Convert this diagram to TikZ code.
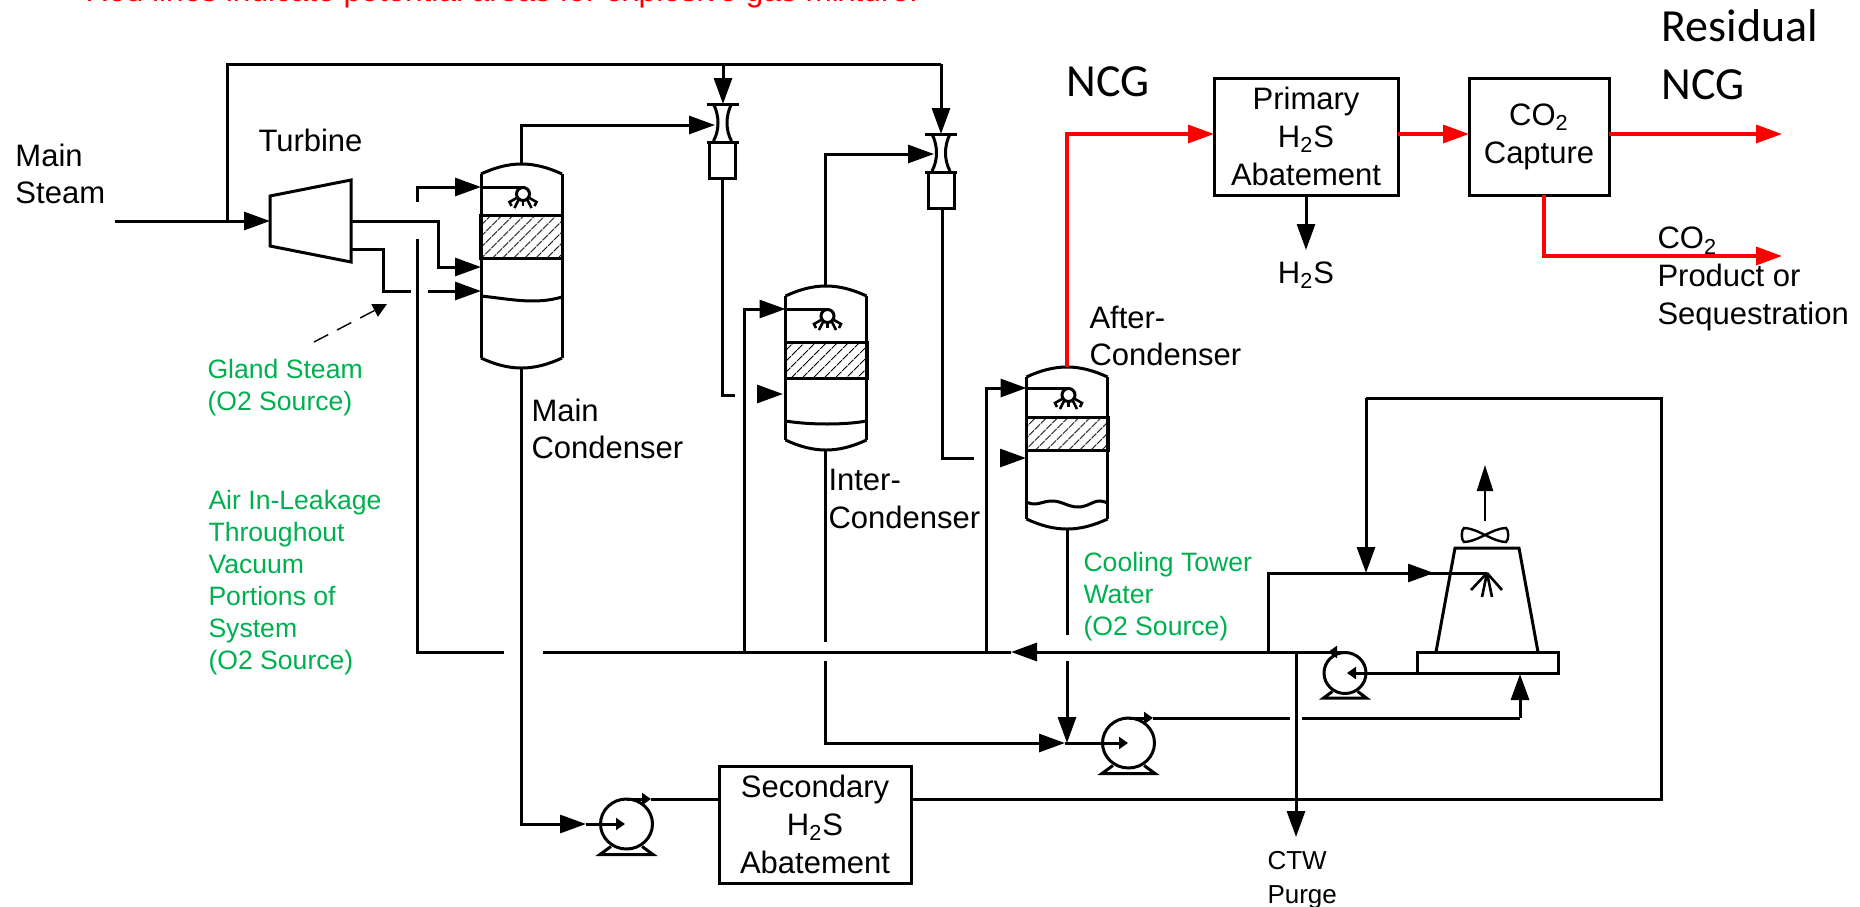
\documentclass[tikz,border=0pt]{standalone}
\usepackage{fontspec}
\setmainfont{Liberation Sans}
\newfontfamily\carlitofont{Carlito}
\usetikzlibrary{arrows.meta,shapes.geometric,patterns.meta}
\definecolor{leakgreen}{HTML}{00B050}
\begin{document}
\begin{tikzpicture}[x=0.5pt,y=-0.5pt,>={Triangle[length=13pt,width=9pt]},line width=1.5pt,
    small head/.style={>={Triangle[length=4.5pt,width=6pt]}},
    red line/.style={red,line width=1.7pt},
    main label/.style={anchor=west,align=left,inner sep=0pt,font=\fontsize{15.5}{18.9}\selectfont},
    big label/.style={anchor=west,align=left,inner sep=0pt,font=\carlitofont\fontsize{23}{29}\selectfont},
    leak label/.style={anchor=west,align=left,inner sep=0pt,text=leakgreen,font=\fontsize{13.3}{16}\selectfont},
    unit box/.style={draw,rectangle,align=center,inner sep=0pt,outer sep=0pt,font=\fontsize{15.5}{18.9}\selectfont},
    vessel node/.style={rectangle,inner sep=0pt,outer sep=0pt,minimum width=40.5pt},
    packing node/.style={draw,rectangle,inner sep=0pt,outer sep=0pt,minimum width=41pt,
      pattern={Lines[angle=45,distance=4pt,line width=.6pt]}},
    head node/.style={draw,circle,inner sep=0pt,outer sep=0pt,minimum size=6.5pt},
    pump node/.style={draw,ellipse,inner sep=0pt,outer sep=0pt},
    ejector node/.style={draw,rectangle,inner sep=0pt,outer sep=0pt,minimum width=13pt,minimum height=18pt}]
    \useasboundingbox (0,0) rectangle (1860,906);

    \foreach \vname/\vx/\vtop/\vbot/\ptop/\pbot/\sy in {maincond/521.5/174/358/215/258/187,
        intercond/826/296/440/342/378/309,aftercond/1067/377/519/417/450/388} {
      \node[vessel node,minimum height={(\vbot-\vtop)*0.5}] (\vname) at (\vx,{(\vtop+\vbot)/2}) {};
      \draw (\vname.north west) -- (\vname.south west);
      \draw (\vname.north east) -- (\vname.south east);
      \draw (\vname.north west) to[bend left=25] (\vname.north east);
      \draw (\vname.south west) to[bend right=25] (\vname.south east);
      \node[packing node,minimum height={(\pbot-\ptop)*0.5}] (\vname pack) at (\vx,{(\ptop+\pbot)/2}) {};
      \node[head node] (\vname head) at (\vx+1.5,\sy+7) {};
      \draw (\vx-40.5,\sy) -- (\vx+1.5,\sy) -- (\vname head.north);
      \draw[line width=1.3pt] (\vname head.south) -- (\vx+1.5,\sy+19);
      \draw[line width=1.3pt] (\vx-5,\sy+11) -- (\vx-12,\sy+15) -- (\vx-10,\sy+19);
      \draw[line width=1.3pt] (\vx+8,\sy+11) -- (\vx+15,\sy+15) -- (\vx+13,\sy+19);
      \draw[line width=1.3pt] (\vx-3,\sy+13) -- (\vx-7,\sy+21);
      \draw[line width=1.3pt] (\vx+6,\sy+13) -- (\vx+10,\sy+21);
    }
    \draw (481,296) .. controls (510,299) and (535,305) .. (562,297);
    \draw (785.5,421) .. controls (810,425) and (845,425) .. (866.5,421);
    \draw (1026.5,502) .. controls (1036,507) and (1042,501) .. (1052,501)
      .. controls (1062,501) and (1068,507) .. (1078,507)
      .. controls (1088,507) and (1092,501) .. (1100,501)
      .. controls (1103,501) and (1105,502) .. (1107.5,503);

    \foreach \ejname/\ex/\ey in {ejone/722.5/104,ejtwo/941/134} {
      \node[ejector node] (\ejname) at (\ex,\ey+56) {};
      \draw (\ex-16,\ey) -- (\ex+16,\ey);
      \draw (\ex-16,\ey+38) -- (\ex+16,\ey+38);
      \draw (\ex-9,\ey) .. controls (\ex-3,\ey+12) and (\ex-3,\ey+26) .. (\ex-9,\ey+37);
      \draw (\ex+9,\ey) .. controls (\ex+3,\ey+12) and (\ex+3,\ey+26) .. (\ex+9,\ey+37);
    }

    \foreach \pname/\px/\py/\prw/\prh in {pumpone/1345/673/42/41,pumptwo/1128.5/743/52/50,pumpthree/626.5/824/52/50} {
      \node[pump node,minimum width={\prw*0.5},minimum height={\prh*0.5}] (\pname) at (\px,\py) {};
      \draw (\px-\prw*0.3,\py+\prh*0.45) -- (\px-\prw*0.51,\py+\prh*0.61) -- (\px+\prw*0.51,\py+\prh*0.61)
        -- (\px+\prw*0.3,\py+\prh*0.45);
    }

    \node[unit box,minimum width=92pt,minimum height=58.5pt] (primary) at (1306,136.5) {Primary\\H\textsubscript{2}S\\Abatement};
    \node[unit box,minimum width=70pt,minimum height=58.5pt] (capture) at (1539,136.5) {CO\textsubscript{2}\\Capture};
    \node[unit box,minimum width=96pt,minimum height=58.5pt] (secondary) at (815,824.5) {Secondary\\H\textsubscript{2}S\\Abatement};
    \node[draw,rectangle,inner sep=0pt,outer sep=0pt,minimum width=70.5pt,minimum height=10.5pt] (basin) at (1487.5,662.5) {};

    \foreach \cname/\cx/\cy in {steamin/115/221,turbinein/270/221,steamtap/227/221,steamtop/227/64,
        turba/270/196,turbb/351/180,turbc/351/262,turbd/270/246,turbineout/351/221,glandout/351/249,
        ejoneabove/723/64,ejoneflange/723/104,ejtwoabove/941/64,ejtwoflange/941/134,
        maintop/521/165,ejonein/715/125,maininb/481/267,mainbend/438/221,glandbend/383/249,
        glandend/411/291,glandrestart/428/291,maininc/481/291,
        airtop/417/202,airmid/417/239,airlow/417/652,airend/504/652,maina/481/187,
        cwend/543/652,cwtip/1011/652,pumponetop/1345/652,pumponetip/1328/652,
        ejoneout/722/178,ejonelow/722/395,ejoneend/735/395,interb/783/394,interbbase/758/394,
        ejtwoout/942/208,ejtwolow/942/458,ejtwoend/974/458,afterb/1026/458,afterbbase/1000/458,
        intertop/825.5/287,ejtwoin/934/154,interbot/825.5/450,intergap/825.5/642,interrestart/825.5/661,
        interlow/825.5/743,pumptwoin/1065/743,pumptwotip/1128/743,
        aftertop/1067/367,ncgcorner/1067/134,primaryin/1214/134,primaryout/1398/134,captureout/1609/134,
        capturein/1469/134,residualend/1782/134,capturedown/1544/195,capturelow/1544/256,co2end/1782/256,
        hsdown/1306/195,hsend/1306/250,
        afterbot/1067/529,aftergap/1067/635,afterrestart/1067/661,
        interfeed/744.5/652,intera/785.5/309,afterfeed/986/652,aftera/1026.5/388,
        mainbot/521/368,mainlow/521/824,pumpthreein/586/824,pumpthreetip/625/824,
        pumpthreetop/626.5/799,pumpthreeflow/651/799,secin/719/799,secout/911/799,
        returnright/1661/799,returnup/1661/398,returnleft/1366/398,towerjoin/1366/573,
        towerbend/1268/573,towerfeed/1268/652,towerin/1434/573,towerspray/1487/573,
        purgetop/1296/652,purgeend/1296/837,
        pumptwotop/1128.5/718,pumptwoflow/1153/718,coolend/1290/718,coolrestart/1302/718,coolright/1520/718,
        basinin/1520/674,basinout/1417/673,pumponein/1347/673,
        towera/1436/652,towerb/1455/548,towerc/1519/548,towerd/1538/652,
        fanup/1485/521,fantip/1485/465,dashfrom/314/342,dashto/387/304} {
      \coordinate (\cname) at (\cx,\cy);
    }

    \draw[->] (steamin) -- (turbinein);
    \draw (steamtap) -- (steamtop) -- (ejtwoabove);
    \draw[->] (ejoneabove) -- (ejoneflange);
    \draw[->] (ejtwoabove) -- (ejtwoflange);
    \draw (turba) -- (turbb) -- (turbc) -- (turbd) -- cycle;
    \draw[->] (maintop) |- (ejonein);
    \draw[->] (turbineout) -- (mainbend) |- (maininb);
    \draw (glandout) -- (glandbend) |- (glandend);
    \draw[->] (glandrestart) -- (maininc);
    \draw[->] (airtop) |- (maina);
    \draw (airmid) |- (airend);
    \draw[->] (pumponetop) -- (cwtip);
    \draw (cwtip) -- (cwend);
    \draw[small head,->] (pumponetop) -- (pumponetip);
    \draw (ejoneout) -- (ejonelow) -- (ejoneend);
    \draw[->] (interbbase) -- (interb);
    \draw (ejtwoout) -- (ejtwolow) -- (ejtwoend);
    \draw[->] (afterbbase) -- (afterb);
    \draw[->] (intertop) |- (ejtwoin);
    \draw (interbot) -- (intergap);
    \draw[->] (interrestart) |- (pumptwoin);
    \draw[small head,->] (pumptwoin) -- (pumptwotip);
    \draw (afterbot) -- (aftergap);
    \draw[->] (afterrestart) -- (pumptwoin -| afterrestart);
    \draw[->] (interfeed) |- (intera);
    \draw[->] (afterfeed) |- (aftera);
    \draw[->] (mainbot) |- (pumpthreein);
    \draw[small head,->] (pumpthreein) -- (pumpthreetip);
    \draw[small head,->] (pumpthreetop) -- (pumpthreeflow);
    \draw (pumpthreeflow) -- (secin);
    \draw (secout) -- (returnright) -- (returnup) -- (returnleft);
    \draw[->] (returnleft) -- (towerjoin);
    \draw (towerfeed) |- (towerin);
    \draw[->] (towerbend) -- (towerin);
    \draw (towerin) -- (towerspray);
    \draw[->] (purgetop) -- (purgeend);
    \draw[small head,->] (pumptwotop) -- (pumptwoflow);
    \draw (pumptwoflow) -- (coolend);
    \draw (coolrestart) -- (coolright);
    \draw[->] (coolright) -- (basinin);
    \draw[small head,->] (basinout) -- (pumponein);
    \draw (towera) -- (towerb) -- (towerc) -- (towerd);
    \draw[line width=1.3pt] (towerspray) -- (1471,590);
    \draw[line width=1.3pt] (towerspray) -- (1482,597);
    \draw[line width=1.3pt] (towerspray) -- (1492,597);
    \draw[line width=1.3pt] (towerspray) -- (1502,590);
    \draw[line width=1.2pt] (1485,535) .. controls (1477,531) and (1470,528) .. (1464,528)
      .. controls (1461,530) and (1461,540) .. (1464,542)
      .. controls (1470,542) and (1477,539) .. (1485,535)
      .. controls (1493,531) and (1500,528) .. (1506,528)
      .. controls (1509,530) and (1509,540) .. (1506,542)
      .. controls (1500,542) and (1493,539) .. (1485,535);
    \draw[->,line width=1.3pt,>={Triangle[length=13pt,width=8pt]}] (fanup) -- (fantip);
    \draw[->,line width=.7pt,dash pattern=on 8pt off 5pt,>={Triangle[length=7pt,width=7pt]}] (dashfrom) -- (dashto);

    \draw[red line,->] (aftertop) -- (ncgcorner) -- (primaryin);
    \draw[red line,->] (primaryout) -- (capturein);
    \draw[red line,->] (captureout) -- (residualend);
    \draw[red line,->] (capturedown) |- (co2end);
    \draw[->] (hsdown) -- (hsend);

    \node[main label] (mainsteamlabel) at (14,174) {Main\\Steam};
    \node[main label] (turbinelabel) at (257,140) {Turbine};
    \node[main label] (maincondlabel) at (530,429) {Main\\Condenser};
    \node[main label] (intercondlabel) at (827,499) {Inter-\\Condenser};
    \node[main label] (aftercondlabel) at (1088,336) {After-\\Condenser};
    \node[main label,anchor=center,align=center] (hslabel) at (1306,275) {H\textsubscript{2}S};
    \node[main label] (co2label) at (1656,279) {CO\textsubscript{2}\\Product or\\Sequestration};
    \node[big label] (ncglabel) at (1065,82) {NCG};
    \node[big label] (residuallabel) at (1660,55) {Residual\\NCG};
    \node[leak label] (glandlabel) at (206,388) {Gland Steam\\(O2 Source)};
    \node[leak label] (airlabel) at (207,583) {Air In-Leakage\\Throughout\\Vacuum\\Portions of\\System\\(O2 Source)};
    \node[leak label] (towerlabel) at (1082,597) {Cooling Tower\\Water\\(O2 Source)};
    \node[anchor=west,align=left,inner sep=0pt,font=\fontsize{13}{17}\selectfont] (purgelabel) at (1266,880) {CTW\\Purge};
    \node[anchor=base west,inner sep=0pt,text=red,font=\fontsize{15.8}{18}\selectfont] (redlabel) at (84,1) {Red lines indicate potential areas for explosive gas mixture.};
\end{tikzpicture}
\end{document}
